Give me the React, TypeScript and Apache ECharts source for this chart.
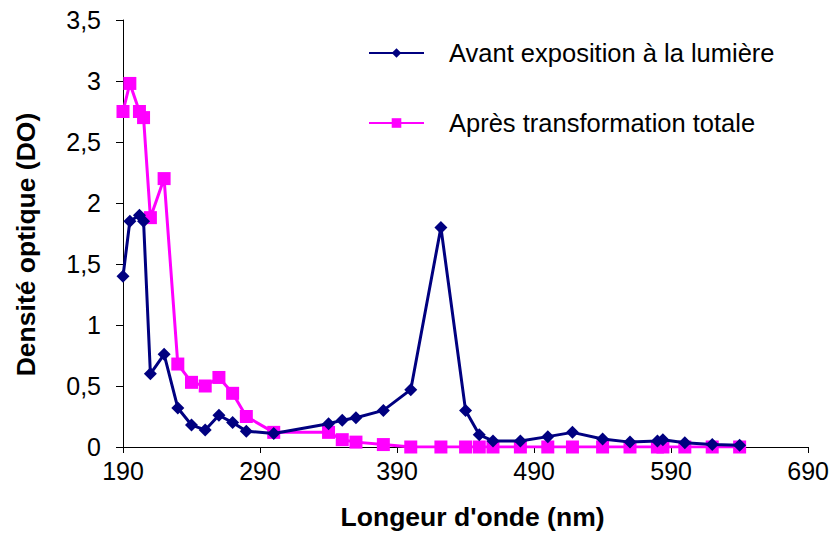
import React, { useEffect, useRef } from "react";
import * as echarts from "echarts";

const wavelengths = [190, 195, 202, 205, 210, 220, 230, 240, 250, 260, 270, 280, 300, 340, 350, 360, 380, 400, 422, 440, 450, 460, 480, 500, 518, 540, 560, 580, 584, 600, 620, 640];
const avantValues = [1.4, 1.85, 1.9, 1.85, 0.6, 0.76, 0.32, 0.18, 0.14, 0.26, 0.2, 0.13, 0.11, 0.19, 0.22, 0.24, 0.3, 0.47, 1.8, 0.3, 0.1, 0.05, 0.05, 0.085, 0.12, 0.065, 0.04, 0.05, 0.06, 0.035, 0.02, 0.015];
const apresValues = [2.75, 2.98, 2.75, 2.7, 1.88, 2.2, 0.68, 0.53, 0.5, 0.57, 0.44, 0.25, 0.12, 0.12, 0.06, 0.04, 0.02, 0, 0, 0, 0, 0, 0, 0, 0, 0, 0, 0, 0, 0, 0, 0];
const xTickValues = [190, 290, 390, 490, 590, 690];
const seriesNames = ["Avant exposition à la lumière", "Après transformation totale"];
const xAxisTitle = "Longeur d'onde (nm)";
const yAxisTitle = "Densité optique (DO)";

const FONT = "'Liberation Sans', Arial, sans-serif";

export default function App() {
  const ref = useRef<HTMLDivElement>(null);
  useEffect(() => {
    if (!ref.current) return;
    const chart = echarts.init(ref.current, undefined, { renderer: "svg" });
    const toPairs = (vals: number[]) => wavelengths.map((w, i) => [w, vals[i]]);
    chart.setOption({
      animation: false,
      backgroundColor: "#ffffff",
      textStyle: { fontFamily: FONT },
      grid: { left: 123, right: 23, top: 20, bottom: 90, containLabel: false },
      legend: {
        orient: "vertical",
        left: 363,
        top: 35,
        itemWidth: 55,
        itemHeight: 12,
        itemGap: 44,
        textStyle: { fontFamily: FONT, fontSize: 25.5, color: "#000", padding: [0, 0, 0, 20] },
        data: seriesNames,
      },
      xAxis: {
        type: "value",
        min: 190,
        max: 690,
        name: xAxisTitle,
        nameLocation: "middle",
        nameGap: 56,
        nameTextStyle: { fontFamily: FONT, fontSize: 26.5, fontWeight: "bold", color: "#000", padding: [0, 0, 0, 14] },
        axisLine: { show: true, lineStyle: { color: "#000", width: 1 } },
        axisTick: { show: true, inside: false, length: 6, lineStyle: { color: "#000" }, customValues: xTickValues },
        axisLabel: { fontFamily: FONT, fontSize: 25, color: "#000", margin: 11, customValues: xTickValues },
        splitLine: { show: false },
      },
      yAxis: {
        type: "value",
        min: 0,
        max: 3.5,
        interval: 0.5,
        name: yAxisTitle,
        nameLocation: "middle",
        nameGap: 84,
        nameRotate: 90,
        nameTextStyle: { fontFamily: FONT, fontSize: 26.5, fontWeight: "bold", color: "#000", padding: [0, 22, 0, 0] },
        axisLine: { show: true, lineStyle: { color: "#000", width: 1 } },
        axisTick: { show: true, inside: false, length: 7, lineStyle: { color: "#000" } },
        axisLabel: {
          fontFamily: FONT,
          fontSize: 25,
          color: "#000",
          margin: 22,
          formatter: (v: number) => String(v).replace(".", ","),
        },
        splitLine: { show: false },
      },
      series: [
        {
          name: seriesNames[0],
          type: "line",
          data: toPairs(avantValues),
          symbol: "diamond",
          symbolSize: 13,
          showAllSymbol: true,
          itemStyle: { color: "#000080" },
          lineStyle: { color: "#000080", width: 3 },
          z: 3,
        },
        {
          name: seriesNames[1],
          type: "line",
          data: toPairs(apresValues),
          symbol: "rect",
          symbolSize: 13,
          showAllSymbol: true,
          itemStyle: { color: "#FF00FF" },
          lineStyle: { color: "#FF00FF", width: 3 },
          z: 2,
        },
      ],
    });
    return () => chart.dispose();
  }, []);
  return (
    <div
      ref={ref}
      style={{ position: "fixed", left: 0, top: 0, width: 832, height: 537, background: "#fff" }}
    />
  );
}
